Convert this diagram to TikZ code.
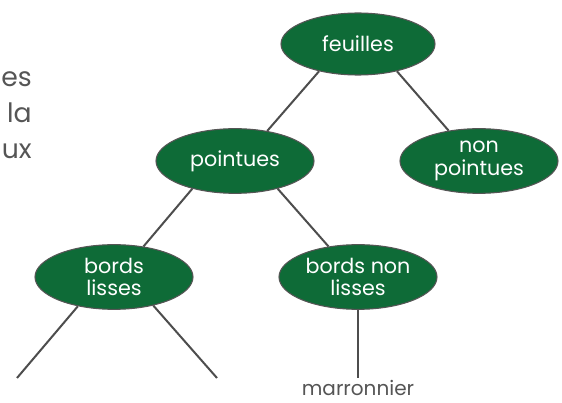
\documentclass[tikz,border=0pt]{standalone}
\usepackage{fontspec}
\setmainfont{Poppins}
\usetikzlibrary{shapes.geometric}
\definecolor{leafgreen}{HTML}{0E6B37}
\definecolor{edgegray}{HTML}{4D4D4D}
\definecolor{textgray}{HTML}{555555}
\tikzset{
  treenode/.style={ellipse, draw=textgray, line width=0.8pt, fill=leafgreen, text=white,
    minimum width=118.5pt, minimum height=48.5pt, inner sep=0pt, align=center,
    font=\fontsize{15.5}{18.75}\selectfont},
  branch/.style={draw=edgegray, line width=1.5pt},
  sidetext/.style={anchor=base east, text=textgray, inner sep=0pt, font=\fontsize{20}{24}\selectfont},
  leaflabel/.style={anchor=base, text=textgray, inner sep=0pt, text depth=0pt, font=\fontsize{15}{18}\selectfont}
}
\begin{document}
\begin{tikzpicture}[x=0.75pt, y=-0.75pt]
\useasboundingbox (0,0) rectangle (562,403);
\node[treenode, minimum width=115.5pt, minimum height=46.5pt] (feuilles) at (358,44) {feuilles};
\node[treenode] (pointues) at (235,161) {pointues};
\node[treenode] (nonpointues) at (479,161) {non\\[-2pt]pointues};
\node[treenode] (bl) at (114,277) {bords\\[-2pt]lisses};
\node[treenode] (bnl) at (358,277) {bords non\\[-2pt]lisses};
\coordinate (l1) at (17,378);
\coordinate (l2) at (217,378);
\coordinate (l3) at (358,378);
\node[leaflabel] (marr) at (358,396) {marronnier};
\node[sidetext] (t1) at (32,87) {es};
\node[sidetext] (t2) at (32,123) {la};
\node[sidetext] (t3) at (32,159) {ux};
\draw[branch] (feuilles.215) -- (pointues.43);
\draw[branch] (feuilles.325) -- (nonpointues.135);
\draw[branch] (pointues.213) -- (bl.46);
\draw[branch] (pointues.327) -- (bnl.134);
\draw[branch] (bl.219) -- (l1);
\draw[branch] (bl.324) -- (l2);
\draw[branch] (bnl.south) -- (l3);
\end{tikzpicture}
\end{document}
